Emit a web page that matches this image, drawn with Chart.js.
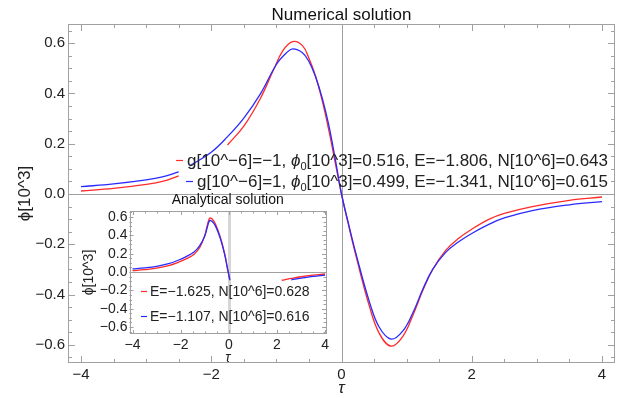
<!DOCTYPE html>
<html>
<head>
<meta charset="utf-8">
<script src="https://cdn.jsdelivr.net/npm/chart.js@4.4.1/dist/chart.umd.min.js"></script>
<style>
  body { margin: 0; background: #fff; }
  #main { position: absolute; left: 0; top: 0; }
  #inset { position: absolute; left: 80px; top: 188px; }
</style>
</head>
<body>
<canvas id="main" width="617" height="398"></canvas>
<canvas id="inset" width="258" height="177"></canvas>
<script>
// ---- data (null = hidden behind the legend) ----
const numRedTau = [-4, -3.5, -3, -2.75, -2.5, -2.1, -1.75, -1.5, -1.25, -1.05, -0.9, -0.75, -0.6, -0.5, -0.4, -0.3, -0.2, -0.1, 0, 0.1, 0.225, 0.43, 0.58, 0.76, 0.94, 1.1, 1.25, 1.4, 1.6, 1.8, 2.0, 2.27, 2.5, 2.93, 3.5, 4];
const numRedPhi = [0.012, 0.022, 0.038, 0.05, 0.072, null, 0.195, 0.27, 0.378, 0.49, 0.57, 0.606, 0.59, 0.54, 0.47, 0.375, 0.26, 0.13, 0, -0.115, -0.249, -0.448, -0.554, -0.605, -0.567, -0.48, -0.383, -0.3, -0.224, -0.176, -0.14, -0.1, -0.077, -0.05, -0.025, -0.012];

const numBlueTau = [-4, -3.5, -3, -2.75, -2.5, -2.4, -2.33, -2.0, -1.75, -1.5, -1.25, -1.0, -0.85, -0.75, -0.6, -0.5, -0.4, -0.3, -0.2, -0.1, 0, 0.1, 0.225, 0.43, 0.58, 0.76, 0.94, 1.1, 1.25, 1.4, 1.6, 1.8, 2.0, 2.27, 2.5, 2.93, 3.5, 4];
const numBluePhi = [0.029, 0.04, 0.056, 0.068, 0.088, null, 0.112, 0.166, 0.228, 0.302, 0.396, 0.515, 0.56, 0.577, 0.562, 0.527, 0.467, 0.385, 0.28, 0.145, 0, -0.11, -0.24, -0.43, -0.53, -0.577, -0.545, -0.47, -0.378, -0.3, -0.232, -0.19, -0.157, -0.12, -0.095, -0.066, -0.043, -0.03];

const anaRedTau = [-4, -3.5, -3, -2.5, -2.1, -1.75, -1.43, -1.2, -1.0, -0.9, -0.8, -0.7, -0.55, -0.35, -0.17, -0.06, 0.03, 1.0, 2.2, 2.6, 3.0, 3.5, 4.0];
const anaRedPhi = [0.014, 0.025, 0.042, 0.07, 0.106, 0.145, 0.196, 0.27, 0.396, 0.5, 0.585, 0.58, 0.52, 0.38, 0.2, 0.05, -0.076, null, -0.09, -0.07, -0.052, -0.035, -0.022];

const anaBlueTau = [-4, -3.5, -3, -2.5, -2.1, -1.75, -1.43, -1.2, -1.0, -0.9, -0.8, -0.7, -0.55, -0.35, -0.17, -0.06, 0.05, 1.0, 2.6, 3.0, 3.5, 4.0];
const anaBluePhi = [0.033, 0.045, 0.062, 0.09, 0.128, 0.17, 0.22, 0.29, 0.39, 0.48, 0.558, 0.553, 0.5, 0.365, 0.19, 0.045, -0.09, null, -0.085, -0.067, -0.048, -0.034];

const numLegend = [
  ['g[10^−6]=−1, ', 'ϕ', '0', '[10^3]=0.516, E=−1.806, N[10^6]=0.643'],
  ['g[10^−6]=1, ', 'ϕ', '0', '[10^3]=0.499, E=−1.341, N[10^6]=0.615']
];
const anaLegend = ['E=−1.625, N[10^6]=0.628', 'E=−1.107, N[10^6]=0.616'];

const xTicksMain = [-4, -2, 0, 2, 4];

const RED = '#ff2a2a';
const BLUE = '#2a2aff';
const GRAY = '#a0a0a0';
const FONT = "'Liberation Sans', Arial, sans-serif";

function pts(xs, ys) {
  return xs.map((x, i) => ({ x: x, y: ys[i] }));
}

function fmt(v, d) {
  if (Math.abs(v) < 1e-9) v = 0;
  return (d ? v.toFixed(d) : String(v)).replace('-', '−');
}

// frame with inward ticks plus the zero axes, Mathematica style
const framePlugin = {
  id: 'frame',
  beforeDatasetsDraw(chart, args, o) {
    const { ctx, chartArea: a, scales: { x, y } } = chart;
    ctx.save();
    ctx.strokeStyle = o.vColor;
    ctx.lineWidth = o.vWidth;
    const x0 = Math.round(x.getPixelForValue(0)) + 0.5;
    ctx.beginPath(); ctx.moveTo(x0, a.top); ctx.lineTo(x0, a.bottom); ctx.stroke();
    ctx.strokeStyle = GRAY;
    ctx.lineWidth = 1;
    const y0 = Math.round(y.getPixelForValue(0)) + 0.5;
    ctx.beginPath(); ctx.moveTo(a.left, y0); ctx.lineTo(a.right, y0); ctx.stroke();
    ctx.restore();
  },
  afterDatasetsDraw(chart, args, o) {
    const { ctx, chartArea: a, scales: { x, y } } = chart;
    ctx.save();
    ctx.strokeStyle = GRAY;
    ctx.lineWidth = 1;
    ctx.strokeRect(Math.round(a.left) + 0.5, Math.round(a.top) + 0.5,
      Math.round(a.right - a.left) - 1, Math.round(a.bottom - a.top) - 1);
    ctx.beginPath();
    for (let i = Math.ceil(x.min / o.xMinor); i * o.xMinor <= x.max + 1e-9; i++) {
      const v = i * o.xMinor;
      const len = Math.abs(v / o.xMajor - Math.round(v / o.xMajor)) < 1e-6 ? o.major : o.minor;
      const px = Math.round(x.getPixelForValue(v)) + 0.5;
      ctx.moveTo(px, a.bottom); ctx.lineTo(px, a.bottom - len);
      ctx.moveTo(px, a.top); ctx.lineTo(px, a.top + len);
    }
    for (let i = Math.ceil(y.min / o.yMinor); i * o.yMinor <= y.max + 1e-9; i++) {
      const v = i * o.yMinor;
      const len = Math.abs(v / o.yMajor - Math.round(v / o.yMajor)) < 1e-6 ? o.major : o.minor;
      const py = Math.round(y.getPixelForValue(v)) + 0.5;
      ctx.moveTo(a.left, py); ctx.lineTo(a.left + len, py);
      ctx.moveTo(a.right, py); ctx.lineTo(a.right - len, py);
    }
    ctx.stroke();
    ctx.restore();
  }
};

// legend rows drawn inside the plot, text with a subscript
const legendPlugin = {
  id: 'rowLegend',
  afterDraw(chart, args, o) {
    const ctx = chart.ctx;
    ctx.save();
    o.rows.forEach(row => {
      const runs = row.runs.map((t, i) => {
        const sub = row.sub === i, ital = row.ital === i;
        return { t: t, sub: sub, font: (ital ? 'italic ' : '') + (sub ? o.size * 0.65 : o.size) + 'px ' + FONT };
      });
      let w = 0;
      runs.forEach(r => { ctx.font = r.font; r.w = ctx.measureText(r.t).width; w += r.w; });
      let cx = o.align === 'right' ? o.x - w : o.x;
      ctx.strokeStyle = row.color;
      ctx.lineWidth = 1.2;
      ctx.beginPath();
      ctx.moveTo(cx - o.gap - o.mark, row.y + 0.5);
      ctx.lineTo(cx - o.gap, row.y + 0.5);
      ctx.stroke();
      ctx.fillStyle = '#222';
      ctx.textAlign = 'left';
      ctx.textBaseline = 'alphabetic';
      const base = row.y + o.size * 0.36;
      runs.forEach(r => {
        ctx.font = r.font;
        ctx.fillText(r.t, cx, base + (r.sub ? o.size * 0.2 : 0));
        cx += r.w;
      });
    });
    ctx.restore();
  }
};

function lineSet(data, color, order) {
  return {
    data: data, borderColor: color, borderWidth: 1.3, pointRadius: 0,
    fill: false, spanGaps: false, tension: 0.4, order: order
  };
}

new Chart(document.getElementById('main'), {
  type: 'line',
  data: {
    datasets: [
      lineSet(pts(numRedTau, numRedPhi), RED, 2),
      lineSet(pts(numBlueTau, numBluePhi), BLUE, 1)
    ]
  },
  options: {
    responsive: false,
    animation: false,
    layout: { padding: { right: 2 } },
    plugins: {
      legend: { display: false },
      tooltip: { enabled: false },
      title: {
        display: true, text: 'Numerical solution', color: '#111', fullSize: false,
        font: { family: FONT, size: 17, weight: 'normal', lineHeight: 1 },
        padding: { top: 7, bottom: 0 }
      },
      frame: { vColor: GRAY, vWidth: 1, xMinor: 0.5, xMajor: 2, yMinor: 0.05, yMajor: 0.2, major: 7, minor: 4 },
      rowLegend: {
        x: 608, align: 'right', size: 17, gap: 4, mark: 7,
        rows: [
          { runs: numLegend[0], ital: 1, sub: 2, color: RED, y: 160 },
          { runs: numLegend[1], ital: 1, sub: 2, color: BLUE, y: 181 }
        ]
      }
    },
    scales: {
      x: {
        type: 'linear', min: -4.2, max: 4.2,
        afterFit: s => { s.height = 35; },
        afterBuildTicks: s => { s.ticks = xTicksMain.map(v => ({ value: v })); },
        grid: { display: false, drawTicks: false },
        border: { display: false },
        ticks: { padding: 3, maxRotation: 0, autoSkip: false, color: '#222',
          font: { family: FONT, size: 15 }, callback: v => fmt(v, 0) },
        title: { display: true, text: 'τ', color: '#222',
          font: { family: FONT, size: 17, style: 'italic', lineHeight: 1 }, padding: { top: 0, bottom: 1.5 } }
      },
      y: {
        type: 'linear', min: -0.672, max: 0.676,
        afterFit: s => { s.width = 68; },
        grid: { display: false, drawTicks: false },
        border: { display: false },
        ticks: { stepSize: 0.2, includeBounds: false, padding: 3, autoSkip: false, color: '#222',
          font: { family: FONT, size: 15 }, callback: v => fmt(v, 1) },
        title: { display: true, text: 'ϕ[10^3]', color: '#222',
          font: { family: FONT, size: 17, lineHeight: 1 }, padding: { top: 16.5, bottom: 0 } }
      }
    }
  },
  plugins: [framePlugin, legendPlugin]
});

new Chart(document.getElementById('inset'), {
  type: 'line',
  data: {
    datasets: [
      lineSet(pts(anaRedTau, anaRedPhi), RED, 2),
      lineSet(pts(anaBlueTau, anaBluePhi), BLUE, 1)
    ]
  },
  options: {
    responsive: false,
    animation: false,
    layout: { padding: { right: 12 } },
    plugins: {
      legend: { display: false },
      tooltip: { enabled: false },
      title: {
        display: true, text: 'Analytical solution', color: '#111', fullSize: false,
        font: { family: FONT, size: 14, weight: 'normal', lineHeight: 1 },
        padding: { top: 5, bottom: 4 }
      },
      frame: { vColor: '#d6d6d6', vWidth: 3, xMinor: 0.5, xMajor: 2, yMinor: 0.05, yMajor: 0.2, major: 4, minor: 2.5 },
      rowLegend: {
        x: 70, align: 'left', size: 14, gap: 3, mark: 6,
        rows: [
          { runs: [anaLegend[0]], color: RED, y: 103 },
          { runs: [anaLegend[1]], color: BLUE, y: 128 }
        ]
      }
    },
    scales: {
      x: {
        type: 'linear', min: -4.125, max: 4.04,
        afterFit: s => { s.height = 31; },
        afterBuildTicks: s => { s.ticks = xTicksMain.map(v => ({ value: v })); },
        grid: { display: false, drawTicks: false },
        border: { display: false },
        ticks: { padding: 2.5, maxRotation: 0, autoSkip: false, color: '#222',
          font: { family: FONT, size: 14 }, callback: v => fmt(v, 0) },
        title: { display: true, text: 'τ', color: '#222',
          font: { family: FONT, size: 14, style: 'italic', lineHeight: 1 }, padding: { top: 0, bottom: 0 } }
      },
      y: {
        type: 'linear', min: -0.676, max: 0.665,
        afterFit: s => { s.width = 49.5; },
        grid: { display: false, drawTicks: false },
        border: { display: false },
        ticks: { stepSize: 0.2, includeBounds: false, padding: 2, autoSkip: false, color: '#222',
          font: { family: FONT, size: 14 }, callback: v => fmt(v, 1) },
        title: { display: true, text: 'ϕ[10^3]', color: '#222',
          font: { family: FONT, size: 14, lineHeight: 1 }, padding: { top: 2, bottom: 0 } }
      }
    }
  },
  plugins: [framePlugin, legendPlugin]
});
</script>
</body>
</html>
